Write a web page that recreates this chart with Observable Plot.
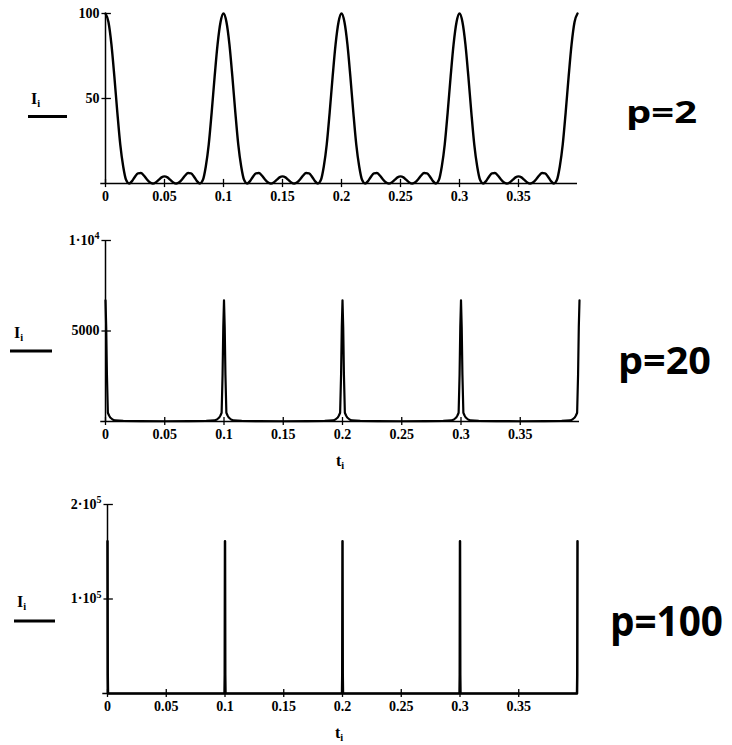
<!DOCTYPE html>
<html>
<head>
<meta charset="utf-8">
<script src="https://cdn.jsdelivr.net/npm/d3@7"></script>
<script src="https://cdn.jsdelivr.net/npm/@observablehq/plot@0.6"></script>
<style>
  html, body { margin: 0; padding: 0; background: #fff; }
  #wrap { position: relative; width: 732px; height: 745px; overflow: hidden; background: #fff; }
  #wrap > svg { position: absolute; left: 0; }
  #overlay { position: absolute; left: 0; top: 0; pointer-events: none; }
</style>
</head>
<body>
<div id="wrap"></div>
<script>
// ---------- data ----------
// period starts (peaks repeat every 0.1 in t)
const periodStarts = [0, 0.1, 0.2, 0.3];
const tEnd = 0.4;

// p = 2 : one period of the intensity profile (offset in t from a principal maximum)
const p2Offset = [0,0.0025,0.005,0.0075,0.01,0.0125,0.015,0.0175,0.02,0.0225,0.025,0.0275,0.03,0.0325,0.035,0.0375,0.04,0.0425,0.045,0.0475,0.05,
                  0.0525,0.055,0.0575,0.06,0.0625,0.065,0.0675,0.07,0.0725,0.075,0.0775,0.08,0.0825,0.085,0.0875,0.09,0.0925,0.095,0.0975];
const p2Value  = [100,95,82,63,42,23,10,2,0,1.4,4,6,6.2,4.7,2.5,0.7,0,0.6,2.1,3.6,4.2,
                  3.6,2.1,0.6,0,0.7,2.5,4.7,6.2,6,4,1.4,0,2,10,23,42,63,82,95];
const p2End = 100;

// p = 20
const p20Offset = [0,0.0006,0.0012,0.002,0.003,0.004,0.006,0.008,0.015,0.03,0.05,0.07,0.085,0.092,0.094,0.096,0.097,0.098,0.0988,0.0994];
const p20Value  = [6700,5200,2600,480,330,220,110,60,35,20,15,20,35,60,110,220,330,480,2600,5200];
const p20End = 6700;

// p = 100
const p100Offset = [0,0.0002,0.0004,0.0996,0.0998];
const p100Value  = [161000,20000,0,0,20000];
const p100End = 161000;

// axes
const xTicks = [0,0.05,0.1,0.15,0.2,0.25,0.3,0.35];
const xTickLabels = ["0","0.05","0.1","0.15","0.2","0.25","0.3","0.35"];
const p2YTicks = [50,100];
const p2YLabels = ["50","100"];
const p20YTicks = [5000,10000];
const p20YLabels = ["5000","1·10^4"];
const p100YTicks = [100000,200000];
const p100YLabels = ["1·10^5","2·10^5"];

const panelLabels = ["p=2","p=20","p=100"];

// ---------- build tables ----------
function build(offsets, values, endValue) {
  const rows = [];
  for (const s of periodStarts) offsets.forEach((o, i) => rows.push({t: s + o, I: values[i]}));
  rows.push({t: tEnd, I: endValue});
  return rows;
}

const wrap = document.getElementById("wrap");

function panel({data, yMax, yTicks, yLabels, top, height, mt, mb, ml, mr, tickY, strokeWidth, curve}) {
  const svg = Plot.plot({
    width: 732, height,
    marginTop: mt, marginBottom: mb, marginLeft: ml, marginRight: mr,
    x: {domain: [0, 0.4]},
    y: {domain: [0, yMax]},
    style: {fontFamily: "'Liberation Serif', 'DejaVu Serif', serif", fontWeight: "bold", fontSize: "14px", color: "black", background: "transparent", overflow: "visible"},
    marks: [
      Plot.axisX(xTicks, {tickSize: 0, tickPadding: 8, label: null, tickFormat: d => xTickLabels[xTicks.indexOf(d)], fontWeight: "bold"}),
      Plot.axisY(yTicks, {tickSize: 0, tickPadding: 6, label: null, tickFormat: d => yLabels[yTicks.indexOf(d)], fontWeight: "bold"}),
      Plot.ruleY([0], {x1: -0.004, x2: 0.4, stroke: "black", strokeWidth: 1.5}),
      Plot.ruleX([0], {y1: 0, y2: yMax, stroke: "black", strokeWidth: 1.5}),
      Plot.ruleX(xTicks, {y1: -tickY, y2: tickY, stroke: "black", strokeWidth: 1.3}),
      Plot.ruleY(yTicks, {x1: -0.003, x2: 0.005, stroke: "black", strokeWidth: 1.3}),
      Plot.line(data, {x: "t", y: "I", curve, stroke: "black", strokeWidth})
    ]
  });
  svg.style.top = top + "px";
  // superscripts for the 1·10^4 style labels
  svg.querySelectorAll("text").forEach(el => {
    const s = el.textContent;
    const m = s.match(/^(.*)\^(\d+)$/);
    if (m) {
      el.textContent = "";
      const a = document.createElementNS("http://www.w3.org/2000/svg", "tspan");
      a.textContent = m[1];
      const b = document.createElementNS("http://www.w3.org/2000/svg", "tspan");
      b.textContent = m[2];
      b.setAttribute("dy", "-0.55em");
      b.setAttribute("font-size", "10px");
      el.appendChild(a); el.appendChild(b);
    }
  });
  wrap.appendChild(svg);
}

panel({data: build(p2Offset, p2Value, p2End), yMax: 100, yTicks: p2YTicks, yLabels: p2YLabels,
       top: 0, height: 210, mt: 13, mb: 27, ml: 105, mr: 155, tickY: 2.4, strokeWidth: 2.4, curve: "monotone-x"});
panel({data: build(p20Offset, p20Value, p20End), yMax: 10000, yTicks: p20YTicks, yLabels: p20YLabels,
       top: 215, height: 240, mt: 25, mb: 34, ml: 105, mr: 153, tickY: 220, strokeWidth: 2.2, curve: "linear"});
panel({data: build(p100Offset, p100Value, p100End), yMax: 200000, yTicks: p100YTicks, yLabels: p100YLabels,
       top: 480, height: 240, mt: 24, mb: 27, ml: 107, mr: 155, tickY: 4200, strokeWidth: 2.5, curve: "linear"});

// ---------- annotations (legend key, axis titles, panel labels) ----------
const NS = "http://www.w3.org/2000/svg";
const ov = document.createElementNS(NS, "svg");
ov.setAttribute("id", "overlay");
ov.setAttribute("width", 732);
ov.setAttribute("height", 745);
wrap.appendChild(ov);

function subText(x, y, main, sub, size) {
  const t = document.createElementNS(NS, "text");
  t.setAttribute("x", x); t.setAttribute("y", y);
  t.setAttribute("font-family", "'Liberation Serif', serif");
  t.setAttribute("font-weight", "bold");
  t.setAttribute("font-size", size);
  const a = document.createElementNS(NS, "tspan"); a.textContent = main;
  const b = document.createElementNS(NS, "tspan"); b.textContent = sub;
  b.setAttribute("font-size", size * 0.65); b.setAttribute("dy", size * 0.2);
  t.appendChild(a); t.appendChild(b);
  ov.appendChild(t);
}
function bar(x1, x2, y) {
  const l = document.createElementNS(NS, "line");
  l.setAttribute("x1", x1); l.setAttribute("x2", x2);
  l.setAttribute("y1", y); l.setAttribute("y2", y);
  l.setAttribute("stroke", "black"); l.setAttribute("stroke-width", 3);
  ov.appendChild(l);
}
function bigLabel(x, y, s, size, len) {
  const t = document.createElementNS(NS, "text");
  t.setAttribute("x", x); t.setAttribute("y", y);
  t.setAttribute("font-family", "'Open Sans', 'Noto Sans', sans-serif");
  t.setAttribute("font-weight", "bold");
  t.setAttribute("font-size", size);
  t.setAttribute("textLength", len);
  t.setAttribute("lengthAdjust", "spacingAndGlyphs");
  t.textContent = s;
  ov.appendChild(t);
}

subText(31, 104, "I", "i", 16); bar(28, 67, 116.5);
subText(14, 338, "I", "i", 16); bar(10, 52, 351);
subText(17, 607, "I", "i", 16); bar(14, 55, 621);

subText(336, 466, "t", "i", 16);
subText(335, 738, "t", "i", 16);

bigLabel(626, 123, panelLabels[0], 31, 71);
bigLabel(618, 374, panelLabels[1], 37, 93);
bigLabel(610, 636, panelLabels[2], 42, 113);
</script>
</body>
</html>
